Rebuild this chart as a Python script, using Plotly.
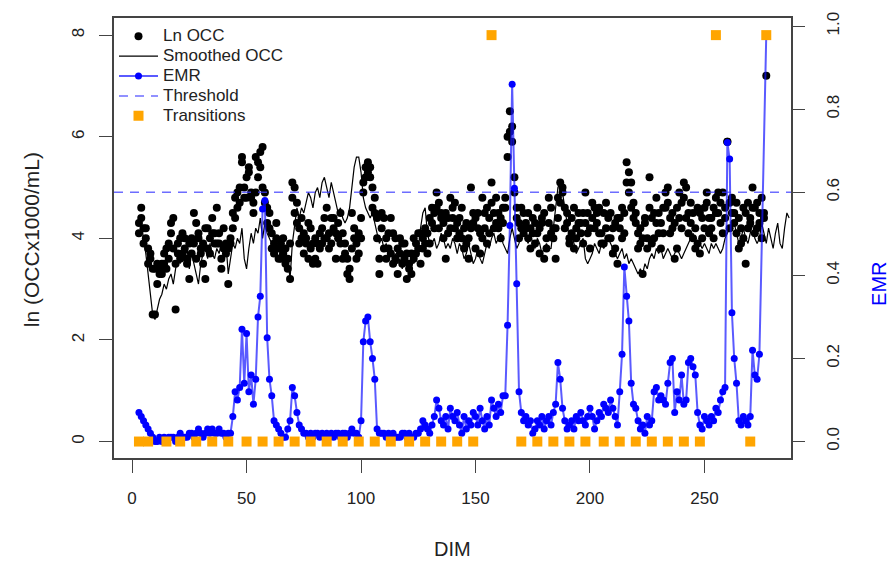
import plotly.graph_objects as go

# ---------------- data ----------------
occ_dim_a = list(range(3, 278))
occ_a = [
    4.3, 4.6, 4.2, 4.0, 3.8, 3.6, 2.5, 3.4, 3.1, 3.3,
    3.5, 3.7, 3.4, 3.9, 4.1, 4.4, 2.6, 3.9, 4.0, 3.7,
    3.8, 3.6, 3.2, 4.0, 3.9, 4.3, 4.1, 3.7, 3.9, 3.2,
    3.8, 4.0, 4.4, 4.1, 3.9, 4.1, 3.6, 3.8, 3.7, 3.1,
    3.9, 4.2, 4.4, 4.9, 4.7, 5.6, 5.0, 4.8, 5.4, 4.8,
    4.5, 4.9, 5.5, 5.4, 5.8, 4.9, 4.6, 4.2, 4.1, 3.9,
    4.0, 3.8, 3.6, 3.7, 3.5, 3.6, 3.2, 5.1, 5.0, 4.7,
    4.2, 4.0, 4.1, 3.9, 4.3, 3.8, 3.5, 3.6, 3.9, 4.1,
    4.2, 4.4, 4.0, 3.8, 4.4, 4.4, 4.1, 4.3, 3.9, 3.6,
    3.7, 3.3, 3.2, 4.5, 4.0, 3.6, 4.1, 4.4, 4.9, 5.4,
    5.5, 5.2, 5.0, 4.8, 4.4, 3.3, 4.5, 3.8, 4.0, 4.1,
    4.4, 3.5, 4.0, 3.8, 3.7, 3.5, 3.9, 3.2, 3.4, 3.7,
    3.6, 3.9, 4.1, 4.1, 3.8, 4.2, 4.1, 4.4, 4.3, 4.2,
    4.9, 4.7, 4.5, 4.3, 3.6, 4.4, 4.2, 4.6, 4.7, 4.3,
    4.1, 4.0, 4.2, 3.9, 3.6, 5.0, 4.3, 3.8, 4.5, 4.1,
    4.8, 4.2, 3.9, 4.4, 5.1, 4.5, 4.3, 4.2, 4.4, 4.6,
    4.8, 6.0, 6.5, 6.2, 5.2, 4.6, 4.3, 4.2, 4.5, 4.3,
    4.0, 4.2, 4.4, 3.9, 4.1, 4.2, 4.3, 3.6, 4.0, 4.8,
    4.6, 4.2, 3.6, 4.4, 5.1, 5.0, 4.6, 4.3, 4.0, 4.1,
    3.8, 4.2, 4.5, 4.3, 3.9, 4.9, 4.5, 4.2, 4.4, 4.6,
    4.3, 4.1, 3.9, 4.5, 4.2, 4.4, 4.0, 3.7, 4.3, 3.5,
    4.4, 4.6, 4.1, 5.5, 5.3, 5.1, 4.7, 4.3, 4.1, 3.9,
    3.3, 4.4, 4.0, 5.2, 3.9, 4.5, 4.3, 4.1, 3.8, 4.6,
    4.9, 5.0, 4.4, 4.2, 3.6, 4.6, 4.4, 4.7, 5.1, 5.0,
    4.5, 4.3, 4.0, 3.8, 4.6, 3.7, 4.4, 4.2, 4.9, 4.4,
    4.2, 4.6, 4.5, 4.9, 4.3, 4.1, 4.6, 5.9, 4.7, 4.5,
    4.3, 4.1, 4.4, 3.9, 4.6, 3.5, 4.2, 4.4, 5.0, 4.6,
    4.7, 4.3, 4.8, 4.5, 7.2,
]
occ_dim_b = list(range(3, 277))
occ_b = [
    4.1, 4.4, 3.9, 4.2, 3.5, 3.7, 3.4, 2.5, 3.5, 3.4,
    3.3, 3.5, 3.8, 3.6, 4.3, 3.8, 3.5, 3.7, 3.6, 4.1,
    4.0, 3.5, 3.9, 3.7, 4.5, 3.6, 4.0, 3.8, 3.5, 4.2,
    4.2, 3.7, 4.1, 3.9, 4.6, 3.9, 3.4, 4.2, 3.9, 3.8,
    4.0, 4.5, 4.8, 4.6, 5.0, 5.5, 4.8, 5.2, 5.3, 4.9,
    4.7, 5.6, 5.2, 5.7, 5.0, 4.7, 4.3, 4.5, 3.8, 3.7,
    4.3, 3.6, 3.9, 4.0, 3.8, 3.4, 3.9, 4.8, 4.5, 4.3,
    3.9, 4.4, 3.7, 4.0, 3.6, 4.2, 3.9, 4.0, 3.5, 3.8,
    3.9, 4.0, 4.6, 4.1, 3.9, 4.2, 3.6, 4.0, 4.5, 4.1,
    3.9, 3.6, 3.4, 3.8, 4.2, 3.9, 3.7, 4.0, 5.1, 5.2,
    5.3, 5.4, 4.6, 4.5, 4.0, 3.6, 4.2, 4.4, 3.6, 3.8,
    3.7, 4.1, 3.6, 3.3, 4.0, 3.9, 3.6, 3.7, 3.5, 3.3,
    4.0, 3.7, 3.8, 3.5, 4.0, 3.9, 3.7, 3.9, 4.6, 4.5,
    4.6, 4.2, 4.4, 4.0, 4.5, 4.1, 4.8, 4.4, 4.2, 4.0,
    4.4, 4.6, 3.8, 4.3, 4.0, 4.2, 4.5, 4.4, 4.2, 3.7,
    4.0, 4.5, 4.6, 4.1, 4.7, 4.2, 4.8, 4.5, 4.0, 4.3,
    4.6, 5.6, 6.1, 5.9, 4.9, 4.4, 4.0, 4.6, 4.1, 4.2,
    4.5, 3.8, 4.1, 4.3, 4.6, 3.7, 4.4, 4.5, 3.8, 4.3,
    4.1, 4.0, 4.2, 4.8, 4.7, 4.9, 4.2, 4.5, 3.9, 4.4,
    4.6, 4.0, 4.3, 4.1, 4.5, 4.3, 4.1, 3.8, 4.7, 4.2,
    4.5, 4.6, 4.1, 3.9, 4.7, 4.0, 4.5, 4.2, 3.8, 4.4,
    4.2, 4.0, 4.5, 5.1, 4.9, 4.6, 4.4, 4.5, 3.8, 4.2,
    4.0, 4.3, 3.8, 4.6, 4.4, 4.0, 4.8, 4.5, 4.3, 4.1,
    4.6, 4.7, 4.1, 4.5, 4.3, 3.8, 4.9, 4.2, 4.8, 4.4,
    4.1, 4.7, 4.5, 4.2, 3.9, 4.5, 4.0, 4.6, 4.7, 4.1,
    4.4, 4.0, 4.8, 4.5, 4.7, 4.9, 4.4, 5.9, 4.2, 4.8,
    4.5, 4.7, 3.8, 4.2, 4.0, 4.5, 4.7, 4.3, 4.6, 4.1,
    4.2, 4.5, 4.0, 4.4,
]

smooth_dim = list(range(3, 288))
smooth_occ = [
    4.45, 4.3, 4.0, 3.7, 3.3, 2.9, 2.5, 2.4, 2.6, 2.8,
    2.9, 3.1, 3.0, 3.2, 3.3, 3.1, 3.4, 3.6, 3.5, 3.7,
    3.6, 3.8, 3.4, 3.7, 3.5, 3.3, 3.1, 3.5, 3.7, 3.8,
    3.6, 3.9, 3.7, 3.6, 3.8, 3.7, 3.9, 3.8, 3.9, 3.3,
    3.6, 3.9, 3.8, 4.0, 3.9, 4.2, 3.6, 3.4, 3.8, 4.1,
    3.9, 4.2, 4.1, 4.4, 4.0, 4.3, 4.1, 4.0, 3.9, 3.7,
    3.8, 3.6, 3.8, 3.7, 3.5, 3.6, 3.2, 3.9, 4.3, 4.6,
    4.4, 4.6, 4.5, 4.7, 4.9, 4.8, 4.6, 4.9, 5.0, 4.8,
    5.1, 5.2, 5.0, 4.8, 5.1, 4.9, 4.7, 4.5, 4.6, 4.4,
    4.3, 4.4, 4.6, 5.0, 5.4, 5.6, 5.6, 5.3, 4.8, 4.6,
    4.5, 4.4, 4.5, 4.3, 4.1, 3.9, 4.0, 3.8, 3.9, 3.7,
    3.8, 3.6, 3.7, 3.5, 3.6, 3.4, 3.6, 3.5, 3.4, 3.7,
    3.5, 3.6, 3.8, 4.2, 4.5, 4.6, 4.1, 3.9, 3.9, 4.0,
    3.8, 3.9, 4.1, 4.0, 3.8, 3.9, 3.8, 4.0, 3.9, 3.7,
    3.9, 3.8, 3.6, 3.7, 3.9, 3.7, 3.5, 3.6, 3.8, 3.6,
    3.5, 3.7, 3.9, 3.8, 4.0, 4.1, 3.9, 4.0, 4.1, 3.9,
    3.8, 3.7, 4.0, 4.2, 4.0, 3.8, 3.9, 4.1, 4.2, 4.0,
    3.9, 4.1, 3.9, 3.8, 4.0, 3.9, 3.7, 3.8, 3.9, 3.8,
    3.8, 4.2, 4.6, 5.0, 5.1, 4.9, 4.6, 4.3, 4.0, 4.1,
    3.9, 3.7, 3.8, 3.9, 4.0, 3.6, 3.5, 3.6, 3.7, 3.9,
    3.8, 3.7, 3.9, 3.8, 3.9, 4.0, 3.9, 3.8, 3.7, 3.6,
    3.7, 3.8, 3.6, 3.7, 3.5, 3.6, 3.5, 3.4, 3.3, 3.4,
    3.3, 3.5, 3.4, 3.6, 3.7, 3.6, 3.8, 3.7, 3.8, 3.6,
    3.7, 3.8, 3.7, 3.6, 3.7, 3.8, 3.7, 3.6, 3.7, 3.8,
    3.9, 4.0, 4.1, 3.9, 3.8, 3.9, 3.8, 3.9, 3.8, 3.7,
    3.9, 3.8, 3.9, 3.8, 3.7, 3.8, 4.0, 4.1, 4.2, 4.3,
    4.3, 4.1, 3.9, 4.0, 4.2, 4.0, 3.9, 4.1, 4.3, 4.0,
    3.9, 4.0, 4.3, 4.1, 3.9, 4.2, 4.0, 3.8, 4.1, 4.3,
    3.9, 3.8, 4.2, 4.5, 4.4,
]

emr_dim = list(range(3, 275)) + [277]
emr = [
    0.07, 0.06, 0.05, 0.04, 0.03, 0.02, 0.01, 0.00, 0.00, 0.01,
    0.00, 0.01, 0.00, 0.01, 0.01, 0.01, 0.00, 0.01, 0.02, 0.01,
    0.01, 0.01, 0.02, 0.02, 0.01, 0.02, 0.03, 0.02, 0.01, 0.02,
    0.03, 0.02, 0.03, 0.02, 0.02, 0.03, 0.02, 0.02, 0.01, 0.02,
    0.02, 0.06, 0.12, 0.10, 0.13, 0.27, 0.14, 0.26, 0.12, 0.16,
    0.09, 0.15, 0.30, 0.35, 0.56, 0.58, 0.25, 0.15, 0.11, 0.05,
    0.04, 0.03, 0.02, 0.01, 0.01, 0.03, 0.05, 0.13, 0.11, 0.07,
    0.04, 0.03, 0.02, 0.02, 0.01, 0.02, 0.01, 0.02, 0.02, 0.01,
    0.02, 0.01, 0.02, 0.01, 0.02, 0.01, 0.02, 0.02, 0.01, 0.02,
    0.02, 0.01, 0.02, 0.03, 0.02, 0.02, 0.01, 0.05, 0.24, 0.29,
    0.30, 0.24, 0.20, 0.15, 0.03, 0.02, 0.02, 0.02, 0.01, 0.02,
    0.01, 0.02, 0.01, 0.01, 0.01, 0.02, 0.02, 0.01, 0.02, 0.01,
    0.01, 0.02, 0.02, 0.03, 0.05, 0.04, 0.03, 0.02, 0.04, 0.06,
    0.10, 0.08, 0.05, 0.04, 0.06, 0.03, 0.08, 0.06, 0.05, 0.07,
    0.04, 0.02, 0.06, 0.03, 0.05, 0.04, 0.07, 0.06, 0.04, 0.08,
    0.05, 0.03, 0.06, 0.04, 0.10, 0.08, 0.06, 0.09, 0.07, 0.11,
    0.11, 0.28, 0.52, 0.86, 0.61, 0.38, 0.12, 0.07, 0.05, 0.06,
    0.04, 0.05, 0.02, 0.03, 0.05, 0.04, 0.06, 0.03, 0.05, 0.06,
    0.04, 0.07, 0.09, 0.19, 0.15, 0.08, 0.05, 0.03, 0.04, 0.05,
    0.03, 0.06, 0.05, 0.07, 0.05, 0.04, 0.06, 0.08, 0.06, 0.03,
    0.05, 0.07, 0.06, 0.09, 0.08, 0.07, 0.10, 0.08, 0.06, 0.04,
    0.12, 0.21, 0.42, 0.35, 0.29, 0.14, 0.09, 0.08, 0.05, 0.03,
    0.04, 0.02, 0.06, 0.04, 0.05, 0.12, 0.13, 0.10, 0.11, 0.10,
    0.09, 0.14, 0.19, 0.20, 0.07, 0.12, 0.10, 0.16, 0.09, 0.10,
    0.19, 0.20, 0.18, 0.16, 0.07, 0.04, 0.03, 0.06, 0.05, 0.04,
    0.06, 0.05, 0.08, 0.07, 0.10, 0.12, 0.13, 0.72, 0.68, 0.31,
    0.20, 0.14, 0.05, 0.04, 0.06, 0.05, 0.04, 0.06, 0.22, 0.16,
    0.15, 0.21, 0.98,
]

threshold = 0.6

trans_dim = [3, 7, 15, 21, 28, 35, 42, 50, 57, 64, 71, 78, 85, 92, 99, 106,
             113, 121, 128, 135, 142, 149, 157, 170, 177, 184, 191, 198, 206,
             213, 220, 227, 234, 241, 248, 255, 270, 277]
trans_ln = [0, 0, 0, 0, 0, 0, 0, 0, 0, 0, 0, 0, 0, 0, 0, 0,
            0, 0, 0, 0, 0, 0, 8, 0, 0, 0, 0, 0, 0,
            0, 0, 0, 0, 0, 0, 8, 0, 8]

x_ticks = [0, 50, 100, 150, 200, 250]
y_ticks = [0, 2, 4, 6, 8]
y2_ticks = [0.0, 0.2, 0.4, 0.6, 0.8, 1.0]
y2_ticktext = ["0.0", "0.2", "0.4", "0.6", "0.8", "1.0"]

X_RANGE = [-7.9, 287.8]
Y_RANGE = [-0.324, 8.337]
Y2_RANGE = [-0.0397, 1.0196]

FONT = "Liberation Sans, Arial, Helvetica, sans-serif"
TXT = "#222222"
AX = "#444444"


def leg(name):
    return "<span style='font-size:17px'>" + name + "</span>"


fig = go.Figure()

fig.add_trace(go.Scatter(
    x=occ_dim_a + occ_dim_b, y=occ_a + occ_b, mode="markers",
    name=leg("Ln OCC"),
    marker=dict(color="black", size=8, line=dict(width=0)),
    yaxis="y"))

fig.add_trace(go.Scatter(
    x=smooth_dim, y=smooth_occ, mode="lines", name=leg("Smoothed OCC"),
    line=dict(color="black", width=1.2), yaxis="y"))

fig.add_trace(go.Scatter(
    x=emr_dim, y=emr, mode="lines+markers", name=leg("EMR"),
    line=dict(color="rgba(20,20,255,0.7)", width=2),
    marker=dict(color="#0000FF", size=7, line=dict(width=0)),
    yaxis="y2"))

fig.add_trace(go.Scatter(
    x=X_RANGE, y=[threshold, threshold], mode="lines", name=leg("Threshold"),
    line=dict(color="rgba(60,60,255,0.75)", width=1.6, dash="9px,7px"),
    yaxis="y2"))

fig.add_trace(go.Scatter(
    x=trans_dim, y=trans_ln, mode="markers", name=leg("Transitions"),
    marker=dict(color="#FFA500", size=10, symbol="square", line=dict(width=0)),
    yaxis="y3"))

fig.update_layout(
    width=892, height=562,
    margin=dict(l=114, r=101, t=15, b=104),
    paper_bgcolor="white", plot_bgcolor="white",
    font=dict(family=FONT, color=TXT),
    showlegend=True,
    legend=dict(x=0.0, y=0.9925, xanchor="left", yanchor="top",
                bgcolor="rgba(0,0,0,0)", font=dict(size=13, color=TXT),
                itemwidth=39, tracegroupgap=0),
    xaxis=dict(range=X_RANGE, tickvals=x_ticks, ticks="outside", ticklen=13,
               tickwidth=1.3, tickcolor=AX, showline=True, mirror=True,
               linecolor=AX, linewidth=1.6, showgrid=False, zeroline=False,
               tickfont=dict(size=17, color=TXT), ticklabelstandoff=11),
    yaxis=dict(range=Y_RANGE, tickvals=y_ticks, ticks="outside", ticklen=13,
               tickwidth=1.3, tickcolor=AX, showline=True, mirror=True,
               linecolor=AX, linewidth=1.6, showgrid=False, zeroline=False,
               tickangle=-90, tickfont=dict(size=17, color=TXT),
               ticklabelstandoff=8),
    yaxis2=dict(range=Y2_RANGE, overlaying="y", side="right",
                tickvals=y2_ticks, ticktext=y2_ticktext, ticks="outside",
                ticklen=13, tickwidth=1.3, tickcolor=AX, showline=False,
                showgrid=False, zeroline=False, tickangle=-90,
                tickfont=dict(size=17, color=TXT), ticklabelstandoff=14),
    yaxis3=dict(range=Y_RANGE, overlaying="y", visible=False),
    annotations=[
        dict(text="DIM", xref="paper", yref="paper", x=0.5, y=-0.207,
             xanchor="center", yanchor="middle", showarrow=False,
             font=dict(size=20, color=TXT, family=FONT)),
        dict(text="ln (OCCx1000/mL)", xref="paper", yref="paper", x=-0.122,
             y=0.496, xanchor="center", yanchor="middle", showarrow=False,
             textangle=-90, font=dict(size=21, color=TXT, family=FONT)),
        dict(text="EMR", xref="paper", yref="paper", x=1.131, y=0.395,
             xanchor="center", yanchor="middle", showarrow=False,
             textangle=-90, font=dict(size=20, color="#0000FF", family=FONT)),
    ],
)

fig.write_html("out.html", config={"displayModeBar": False},
               post_script="document.body.style.margin='0';")
